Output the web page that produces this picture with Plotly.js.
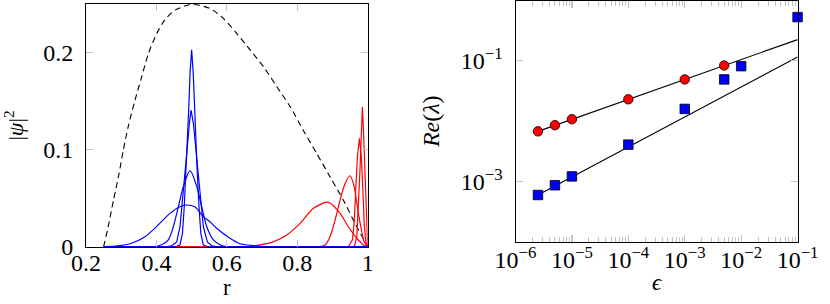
<!DOCTYPE html>
<html>
<head>
<meta charset="utf-8">
<script src="https://cdn.plot.ly/plotly-3.0.1.min.js"></script>
<style>
html,body{margin:0;padding:0;background:#fff;}
#chart{width:830px;height:304px;}
</style>
</head>
<body>
<div id="chart"></div>
<script>
// ---------- Left panel: |psi|^2 vs r ----------
const dashR = [0.25, 0.263, 0.278, 0.292, 0.306, 0.320, 0.339, 0.358, 0.377, 0.401, 0.424, 0.453, 0.5, 0.552, 0.590, 0.628, 0.666, 0.704, 0.742, 0.780, 0.817, 0.855, 0.893, 0.931, 0.964, 1.0];
const dashV = [0, 0.0206, 0.048, 0.072, 0.0997, 0.124, 0.151, 0.175, 0.199, 0.220, 0.234, 0.244, 0.25, 0.2457, 0.2355, 0.220, 0.203, 0.1856, 0.165, 0.1443, 0.120, 0.0963, 0.072, 0.048, 0.024, 0];

const blue1R = [0.25, 0.455, 0.467, 0.474, 0.479, 0.484, 0.488, 0.492, 0.4955, 0.5, 0.5045, 0.508, 0.512, 0.516, 0.521, 0.526, 0.533, 0.545, 1];
const blue1V = [0, 0, 0.002, 0.014, 0.041, 0.076, 0.110, 0.144, 0.179, 0.203, 0.179, 0.144, 0.110, 0.076, 0.041, 0.014, 0.002, 0, 0];
const blue2R = [0.25, 0.43, 0.4434, 0.4576, 0.467, 0.4746, 0.481, 0.4878, 0.4935, 0.4983, 0.505, 0.5116, 0.518, 0.5248, 0.5333, 0.5447, 0.557, 0.57, 1];
const blue2V = [0, 0, 0.001, 0.005, 0.0206, 0.048, 0.0757, 0.103, 0.127, 0.141, 0.127, 0.103, 0.0757, 0.048, 0.0206, 0.005, 0.001, 0, 0];
const blue3R = [0.25, 0.38, 0.4008, 0.415, 0.4338, 0.448, 0.4622, 0.4765, 0.4955, 0.5145, 0.5287, 0.543, 0.5617, 0.5807, 0.60, 1];
const blue3V = [0, 0, 0.0005, 0.002, 0.007, 0.0206, 0.041, 0.062, 0.0784, 0.062, 0.041, 0.0206, 0.007, 0.002, 0, 0];
const blue4R = [0.25, 0.29, 0.325, 0.3676, 0.4008, 0.4386, 0.465, 0.486, 0.51, 0.533, 0.552, 0.571, 0.609, 0.6375, 0.666, 0.71, 1];
const blue4V = [0, 0.0008, 0.003, 0.0103, 0.021, 0.0344, 0.041, 0.043, 0.041, 0.031, 0.0258, 0.019, 0.0087, 0.003, 0.0015, 0, 0];

const red1R = [0.25, 0.65, 0.694, 0.732, 0.770, 0.808, 0.846, 0.8885, 0.9216, 0.945, 0.969, 0.988, 1];
const red1V = [0, 0, 0.0018, 0.005, 0.012, 0.024, 0.0396, 0.0458, 0.0344, 0.0206, 0.0087, 0.0018, 0];
const red2R = [0.25, 0.86, 0.879, 0.893, 0.9074, 0.9216, 0.9358, 0.95, 0.9614, 0.9708, 0.9804, 0.99, 1];
const red2V = [0, 0, 0.0018, 0.0103, 0.0275, 0.048, 0.0653, 0.0732, 0.062, 0.041, 0.0206, 0.005, 0];
const red3R = [0.25, 0.945, 0.9566, 0.9614, 0.966, 0.9708, 0.9765, 0.982, 0.9863, 0.99, 0.995, 1];
const red3V = [0, 0, 0.007, 0.024, 0.0585, 0.0928, 0.1117, 0.0928, 0.0585, 0.024, 0.0035, 0];
const red4R = [0.25, 0.962, 0.969, 0.9737, 0.9777, 0.9813, 0.985, 0.989, 0.9918, 0.9946, 0.9975, 1];
const red4V = [0, 0, 0.0103, 0.0412, 0.0757, 0.11, 0.1443, 0.11, 0.0757, 0.0412, 0.0103, 0];

const leftXTicks = [0.2, 0.4, 0.6, 0.8, 1];
const leftXLabels = ["0.2", "0.4", "0.6", "0.8", "1"];
const leftYTicks = [0, 0.1, 0.2];
const leftYLabels = ["0", "0.1", "0.2"];

// ---------- Right panel: Re(lambda) vs epsilon ----------
const epsRed = [2.5e-6, 5e-6, 1e-5, 1e-4, 1e-3, 5e-3];
const reRed = [0.0068, 0.0086, 0.0108, 0.0231, 0.0493, 0.0838];
const epsBlue = [2.5e-6, 5e-6, 1e-5, 1e-4, 1e-3, 5e-3, 1e-2, 1e-1];
const reBlue = [6.0e-4, 8.7e-4, 1.22e-3, 4.1e-3, 0.016, 0.0493, 0.0817, 0.531];
const fitEps = [2.5e-6, 1e-1];
const fitRed = [0.0068, 0.225];
const fitBlue = [6.0e-4, 0.116];

const rightXTicks = [1e-6, 1e-5, 1e-4, 1e-3, 1e-2, 1e-1];
const rightXLabels = ["10<sup>−6</sup>", "10<sup>−5</sup>", "10<sup>−4</sup>", "10<sup>−3</sup>", "10<sup>−2</sup>", "10<sup>−1</sup>"];
const rightYTicks = [1e-3, 1e-1];
const rightYLabels = ["10<sup>−3</sup>", "10<sup>−1</sup>"];

// minor tick positions for the log x axis
const minorX = [];
for (let e = -6; e <= -2; e++) for (let k = 2; k <= 9; k++) minorX.push(k * Math.pow(10, e));

const FONT = "Liberation Serif";
const TICKC = "#c4c4c4";
const BLUE = "#0000ff", RED = "#ff0000";

function curve(x, y, color, shape) {
  return {x: x, y: y, type: "scatter", mode: "lines", xaxis: "x", yaxis: "y",
          line: {color: color, width: 1.2, shape: shape || "linear", smoothing: 0.8},
          hoverinfo: "skip", showlegend: false};
}

const traces = [
  {x: dashR, y: dashV, type: "scatter", mode: "lines", xaxis: "x", yaxis: "y",
   line: {color: "#000", width: 1.1, dash: "6px,4px", shape: "spline", smoothing: 0.7}, showlegend: false},
  curve(red1R, red1V, RED, "spline"),
  curve(red2R, red2V, RED, "spline"),
  curve(red3R, red3V, RED),
  curve(red4R, red4V, RED),
  curve(blue4R, blue4V, BLUE, "spline"),
  curve(blue3R, blue3V, BLUE, "spline"),
  curve(blue2R, blue2V, BLUE),
  curve(blue1R, blue1V, BLUE),
  // right panel
  {x: fitEps, y: fitRed, type: "scatter", mode: "lines", xaxis: "x2", yaxis: "y2",
   line: {color: "#000", width: 1.1}, showlegend: false},
  {x: fitEps, y: fitBlue, type: "scatter", mode: "lines", xaxis: "x2", yaxis: "y2",
   line: {color: "#000", width: 1.1}, showlegend: false},
  {x: epsRed, y: reRed, type: "scatter", mode: "markers", xaxis: "x2", yaxis: "y2", cliponaxis: false,
   marker: {symbol: "circle", size: 9.5, color: RED, line: {color: "#000", width: 0.8}}, showlegend: false},
  {x: epsBlue, y: reBlue, type: "scatter", mode: "markers", xaxis: "x2", yaxis: "y2", cliponaxis: false,
   marker: {symbol: "square", size: 9.5, color: BLUE, line: {color: "#000", width: 0.8}}, showlegend: false}
];

const axisCommon = {
  showline: true, linecolor: "#000", linewidth: 1, mirror: "ticks",
  ticks: "inside", ticklen: 7, tickwidth: 1.2, tickcolor: TICKC,
  showgrid: false, zeroline: false,
  tickfont: {family: FONT, size: 24, color: "#000"},
  tickmode: "array"
};

const layout = {
  width: 830, height: 304,
  margin: {l: 0, r: 0, t: 0, b: 0},
  paper_bgcolor: "#fff", plot_bgcolor: "#fff",
  showlegend: false,
  font: {family: FONT, color: "#000"},
  xaxis: Object.assign({}, axisCommon, {
    domain: [86 / 830, 367.7 / 830], range: [0.2, 1], anchor: "y",
    tickvals: leftXTicks, ticktext: leftXLabels, ticklabelstandoff: -6,
    title: {text: "r", font: {family: FONT, size: 23}, standoff: 2}
  }),
  yaxis: Object.assign({}, axisCommon, {
    domain: [1 - 246.7 / 304, 1 - 4.3 / 304], range: [0, 0.25], anchor: "x",
    tickvals: leftYTicks, ticktext: leftYLabels, ticklabelstandoff: 7,
    title: {text: "|<i>ψ</i>|<sup>2</sup>", font: {family: FONT, size: 22}, standoff: 16}
  }),
  xaxis2: Object.assign({}, axisCommon, {
    domain: [515.5 / 830, 797.7 / 830], type: "log", range: [-6, -0.998], anchor: "y2",
    tickvals: rightXTicks, ticktext: rightXLabels, ticklabelstandoff: -4,
    minor: {tickmode: "array", tickvals: minorX, ticks: "inside", ticklen: 5, tickwidth: 1, tickcolor: TICKC},
    title: {text: "<i>ϵ</i>", font: {family: FONT, size: 23}, standoff: 2}
  }),
  yaxis2: Object.assign({}, axisCommon, {
    domain: [1 - 242 / 304, 1 - 0.5 / 304], type: "log", range: [-4, 0], anchor: "x2",
    tickvals: rightYTicks, ticktext: rightYLabels, ticklabelstandoff: 7,
    title: {text: "<i>Re</i>(<i>λ</i>)", font: {family: FONT, size: 24}, standoff: 14}
  })
};

Plotly.newPlot("chart", traces, layout, {staticPlot: true, displayModeBar: false});
</script>
</body>
</html>
